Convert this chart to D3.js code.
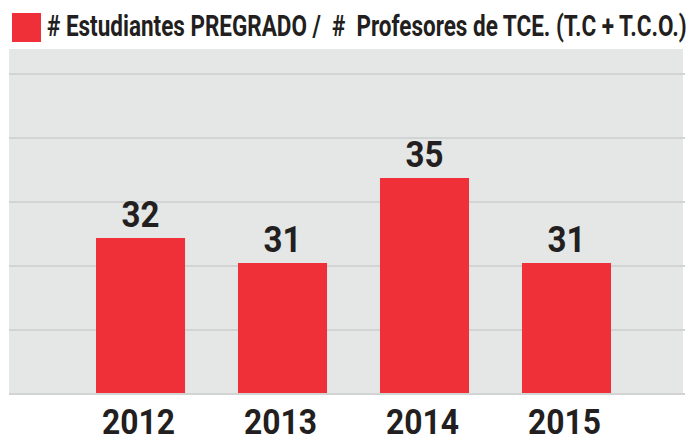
<!DOCTYPE html>
<html lang="es">
  <head>
    <meta charset="utf-8">
    <title>Estudiantes por profesor</title>
    <script src="https://d3js.org/d3.v7.min.js"></script>
    <style>
      body { margin: 0; background: white; }
      svg { display: block; font-family: Roboto, "Liberation Sans", sans-serif; font-weight: bold; }
    </style>
  </head>
  <body>
    <script>
      // data (labels show the rounded value)
      var years = ["2012", "2013", "2014", "2015"];
      var ratio = [31.8, 30.55, 34.8, 30.55];
      var gridValues = [24, 27.2, 30.4, 33.6, 36.8, 40];
      var legendText = "# Estudiantes PREGRADO /  #  Profesores de TCE. (T.C + T.C.O.)";

      var w = 694, h = 442;
      var red = "#ef3039", ink = "#231f20";

      var svg = d3.select("body").append("svg")
        .attr("width", w)
        .attr("height", h);

      var x = d3.scaleBand()
        .domain(years)
        .range([53.4, 653.6])
        .paddingInner(0.373)
        .paddingOuter(0.3);

      var y = d3.scaleLinear()
        .domain([24, 41.25])
        .range([394, 49]);

      // gray panel
      svg.append("rect")
        .attr("x", 9).attr("y", y(41.25))
        .attr("width", 674).attr("height", y(24) - y(41.25))
        .attr("fill", "#e5e6e6");

      svg.append("g").selectAll("line")
        .data(gridValues)
        .enter().append("line")
        .attr("x1", 9).attr("x2", 685)
        .attr("y1", d => y(d)).attr("y2", d => y(d))
        .attr("stroke", "#d2d3d3")
        .attr("stroke-width", 2.2);

      // bars
      svg.append("g").selectAll("rect")
        .data(years)
        .enter().append("rect")
        .attr("x", d => x(d))
        .attr("y", (d, i) => y(ratio[i]))
        .attr("width", x.bandwidth())
        .attr("height", (d, i) => y(24) - y(ratio[i]) - 1)
        .attr("fill", red);

      // value labels
      svg.append("g").selectAll("text")
        .data(years)
        .enter().append("text")
        .attr("x", d => x(d) + x.bandwidth() / 2)
        .attr("y", (d, i) => y(ratio[i]) - 11)
        .attr("text-anchor", "middle")
        .attr("font-size", 37)
        .attr("textLength", 38)
        .attr("lengthAdjust", "spacingAndGlyphs")
        .attr("fill", ink)
        .text((d, i) => Math.round(ratio[i]));

      // year labels
      svg.append("g").selectAll("text")
        .data(years)
        .enter().append("text")
        .attr("x", d => x(d) + x.bandwidth() / 2 - 2)
        .attr("y", 434)
        .attr("text-anchor", "middle")
        .attr("font-size", 35)
        .attr("textLength", 73)
        .attr("lengthAdjust", "spacingAndGlyphs")
        .attr("fill", ink)
        .text(d => d);

      // legend
      svg.append("rect")
        .attr("x", 12).attr("y", 13)
        .attr("width", 29).attr("height", 29)
        .attr("fill", red);

      // condensed look: squeeze the natural text horizontally
      var leg = svg.append("text")
        .attr("x", 0).attr("y", 0)
        .attr("font-size", 29)
        .attr("fill", ink)
        .style("white-space", "pre")
        .text(legendText);
      var natural = leg.node().getComputedTextLength();
      leg.attr("transform", "translate(47,36) scale(" + (640 / natural) + ",1)");
    </script>
  </body>
</html>
